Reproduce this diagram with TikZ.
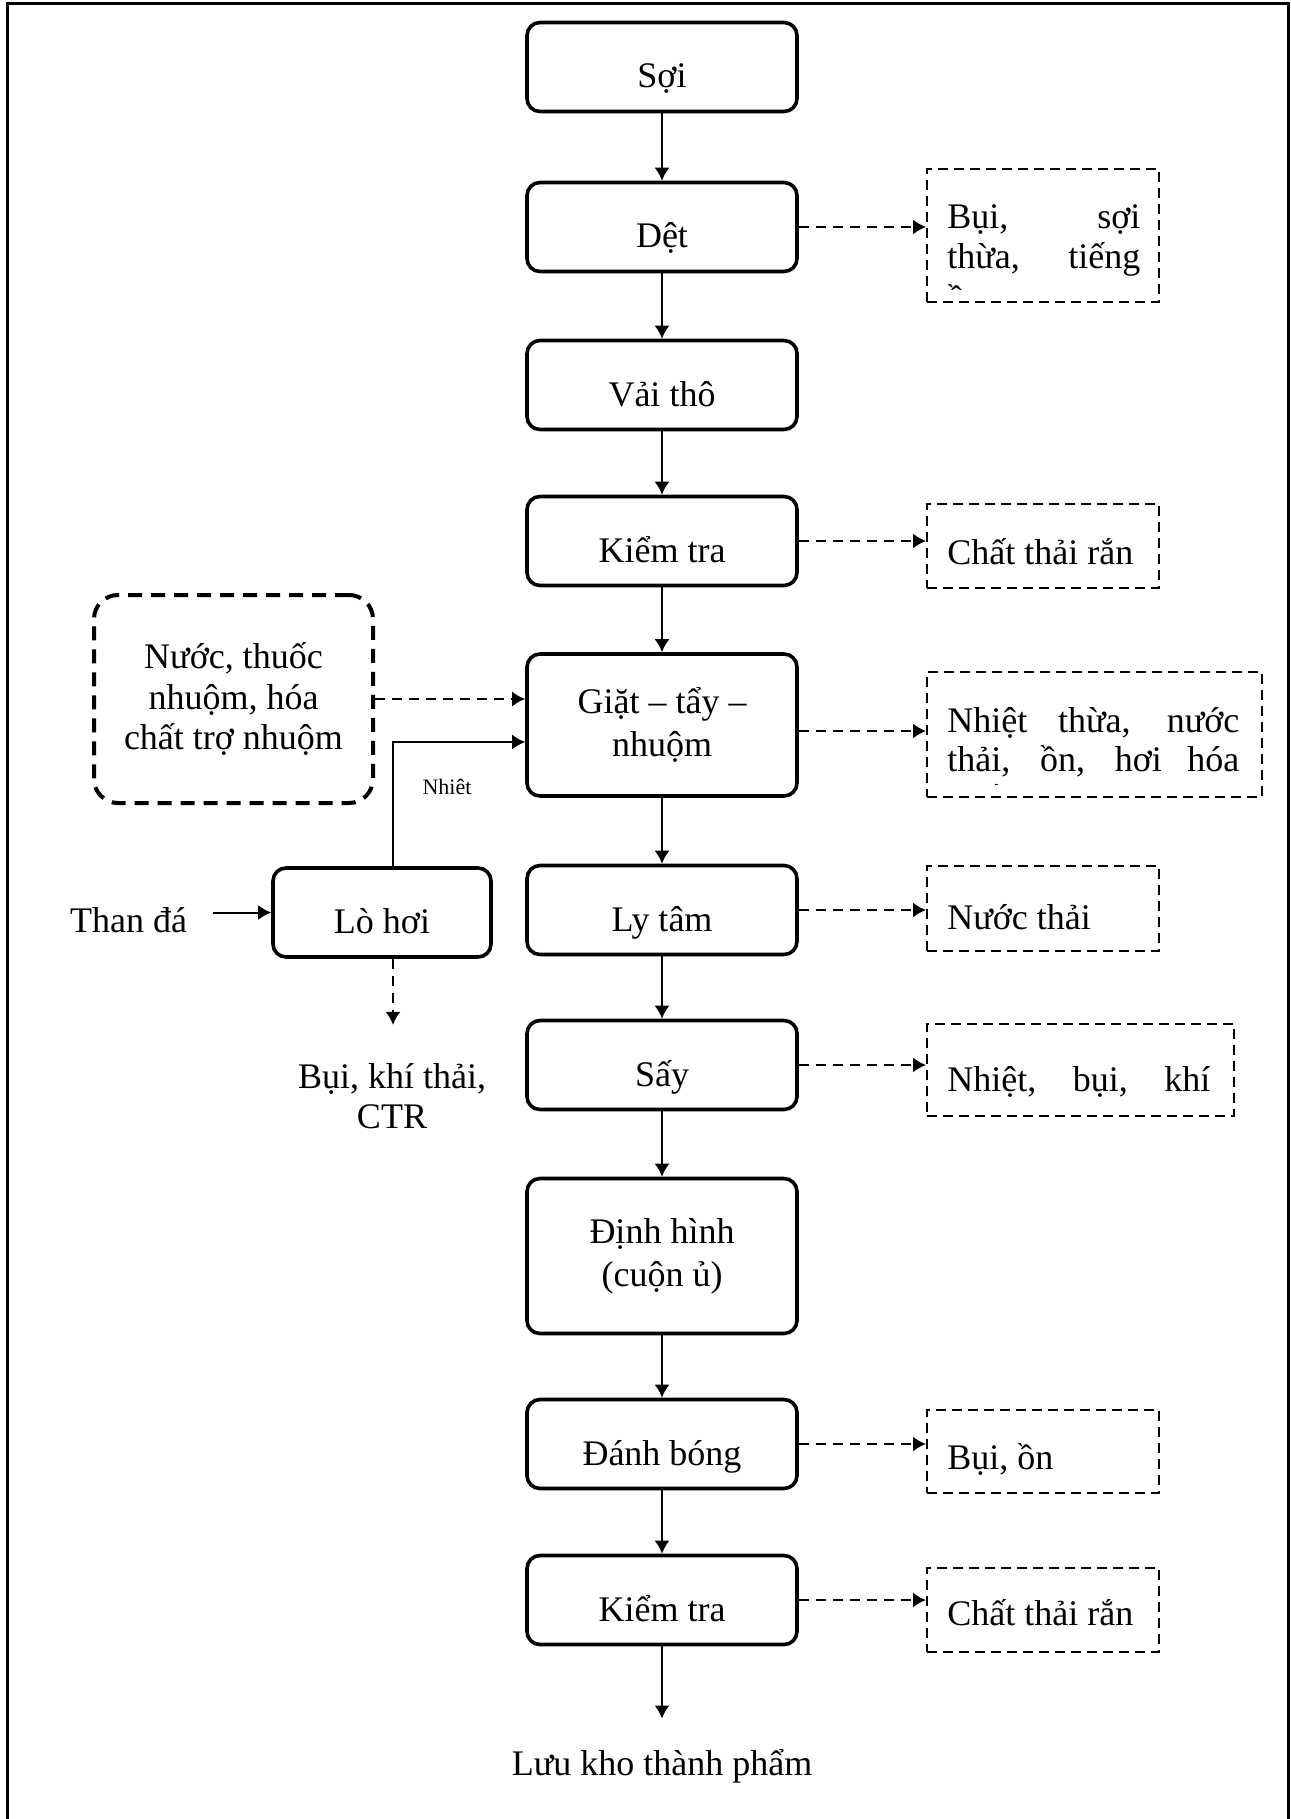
\documentclass[tikz,border=0pt]{standalone}
\usepackage{fontspec}
\setmainfont{Liberation Serif}
\usepackage{tikz}
\usetikzlibrary{arrows.meta}
\hyphenpenalty=10000

\begin{document}
\begin{tikzpicture}[x=0.5pt,y=-0.5pt,font=\fontsize{18}{21.5}\selectfont,
      stage/.style={draw,line width=1.8pt,rounded corners=6.5pt,
        minimum width=135pt,minimum height=44.5pt,align=center},
      onerow/.style={text height=23pt,text depth=2pt},
      waste/.style={draw,line width=1pt,dash pattern=on 5pt off 3pt,
        anchor=north west,minimum width=116pt},
      wtext/.style={anchor=base west,align=justify,inner sep=0pt,
        font=\fontsize{18}{19.5}\selectfont},
      flow/.style={line width=1pt,-{Latex[length=6.5pt,width=7.5pt]}},
      dflow/.style={flow,dash pattern=on 5pt off 3.5pt}]
      \useasboundingbox (0,0) rectangle (1290,1819);
      \draw[line width=1.5pt] (7,1819) -- (7,4) -- (1288,4) -- (1288,1819);

      % main line
      \node[stage,onerow] (soi) at (662,67) {Sợi};
      \node[stage,onerow] (det) at (662,227) {Dệt};
      \node[stage,onerow] (vai) at (662,385) {Vải thô};
      \node[stage,onerow] (kt1) at (662,541) {Kiểm tra};
      \node[stage,minimum height=71pt] (giat) at (662,725) {Giặt – tẩy –\\nhuộm};
      \node[stage,onerow] (lytam) at (662,910) {Ly tâm};
      \node[stage,onerow] (say) at (662,1065) {Sấy};
      \node[stage,minimum height=77.5pt] (dinh) at (662,1256) {Định hình\\(cuộn ủ)};
      \node[stage,onerow] (bong) at (662,1444) {Đánh bóng};
      \node[stage,onerow] (kt2) at (662,1600) {Kiểm tra};
      \node[anchor=base,inner sep=0pt] (kho) at (662,1775) {Lưu kho thành phẩm};

      \draw[flow] (soi) -- (det);
      \draw[flow] (det) -- (vai);
      \draw[flow] (vai) -- (kt1);
      \draw[flow] (kt1) -- (giat);
      \draw[flow] (giat) -- (lytam);
      \draw[flow] (lytam) -- (say);
      \draw[flow] (say) -- (dinh);
      \draw[flow] (dinh) -- (bong);
      \draw[flow] (bong) -- (kt2);
      \draw[flow,shorten >=15pt] (kt2) -- (kho);

      % left side: inputs and boiler
      \node[draw,line width=2pt,dash pattern=on 7pt off 4.5pt,rounded corners=12pt,
        minimum width=139.5pt,minimum height=104pt,align=center,
        font=\fontsize{18}{20.25}\selectfont] (nuoc) at (233.5,699)
        {Nước, thuốc\\nhuộm, hóa\\chất trợ nhuộm};
      \node[stage,onerow,minimum width=109pt] (lohoi) at (382,912.5) {Lò hơi};
      \node[anchor=base,inner sep=0pt] (than) at (128.5,932) {Than đá};
      \node[inner sep=0pt,align=center,font=\fontsize{18}{20}\selectfont] (khi) at (392,1096)
        {Bụi, khí thải,\\CTR};
      \node[font=\fontsize{11}{13}\selectfont] (nhiet) at (447,787) {Nhiêt};
      \coordinate (bend) at (393,742);

      \draw[dflow] (nuoc.east) -- (nuoc.east -| giat.west);
      \draw[flow] (lohoi.north -| bend) -- (bend) -- (bend -| giat.west);
      \draw[flow,shorten <=13pt] (lohoi.west -| than.east) -- (lohoi.west);
      \draw[dflow,shorten >=19pt] (lohoi.south -| bend) -- (bend |- khi.north);

      % right side: wastes
      \node[waste,minimum height=66.5pt] (r1) at (926,168) {};
      \node[waste,minimum height=42pt] (r2) at (926,503) {};
      \node[waste,minimum width=167.5pt,minimum height=62.5pt] (r3) at (926,671) {};
      \node[waste,minimum height=42.5pt] (r4) at (926,865) {};
      \node[waste,minimum width=153.5pt,minimum height=46pt] (r5) at (926,1023) {};
      \node[waste,minimum height=41.5pt] (r6) at (926,1409) {};
      \node[waste,minimum height=42pt] (r7) at (926,1567) {};

      \begin{scope}
        \clip ([yshift=7pt]r1.south west) rectangle (r1.north east);
        \node[wtext,text width=96.5pt,font=\fontsize{18}{20.5}\selectfont] (r1t)
          at ([xshift=10.5pt,yshift=-30pt]r1.north west)
          {Bụi, sợi\linebreak thừa, tiếng\linebreak ồn};
      \end{scope}
      \node[wtext,text width=95pt] (r2t) at ([xshift=10.5pt,yshift=-30.5pt]r2.north west) {Chất thải rắn};
      \begin{scope}
        \clip ([yshift=7pt]r3.south west) rectangle (r3.north east);
        \node[wtext,text width=146pt] (r3t) at ([xshift=10.5pt,yshift=-30.5pt]r3.north west)
          {Nhiệt thừa, nước\linebreak thải, ồn, hơi hóa\linebreak chất};
      \end{scope}
      \node[wtext,text width=95pt] (r4t) at ([xshift=10.5pt,yshift=-32pt]r4.north west) {Nước thải};
      \begin{scope}
        \clip ([yshift=7pt]r5.south west) rectangle (r5.north east);
        \node[wtext,text width=131.5pt] (r5t) at ([xshift=10.5pt,yshift=-34pt]r5.north west)
          {Nhiệt, bụi, khí\linebreak thải};
      \end{scope}
      \node[wtext,text width=95pt] (r6t) at ([xshift=10.5pt,yshift=-30pt]r6.north west) {Bụi, ồn};
      \node[wtext,text width=95pt] (r7t) at ([xshift=10.5pt,yshift=-29pt]r7.north west) {Chất thải rắn};

      \draw[dflow] (det.east) -- (det.east -| r1.west);
      \draw[dflow] (kt1.east) -- (kt1.east -| r2.west);
      \draw[dflow] ([yshift=-3pt]giat.east) -- ([yshift=-3pt]giat.east -| r3.west);
      \draw[dflow] (lytam.east) -- (lytam.east -| r4.west);
      \draw[dflow] (say.east) -- (say.east -| r5.west);
      \draw[dflow] (bong.east) -- (bong.east -| r6.west);
      \draw[dflow] (kt2.east) -- (kt2.east -| r7.west);
    \end{tikzpicture}
\end{document}
